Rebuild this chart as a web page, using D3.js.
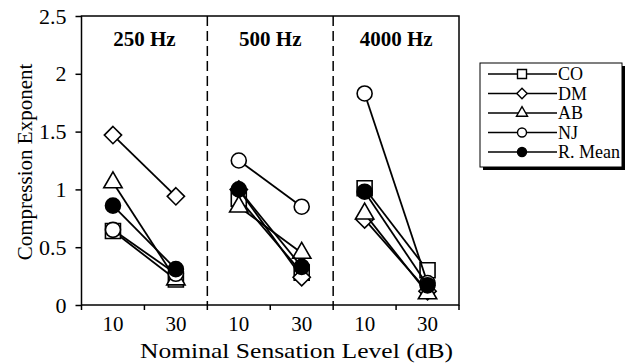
<!DOCTYPE html>
<html>
<head>
<meta charset="utf-8">
<script src="https://cdn.jsdelivr.net/npm/d3@7"></script>
<style>
  body { margin: 0; background: #fff; }
  text { font-family: "Liberation Serif", "Times New Roman", serif; fill: #000; }
</style>
</head>
<body>
<div id="chart-area"></div>
<script>
const panels = ["250 Hz", "500 Hz", "4000 Hz"];
const levels = ["10", "30"];
const seriesNames = ["CO", "DM", "AB", "NJ", "R. Mean"];
// values in order: 250-10, 250-30, 500-10, 500-30, 4000-10, 4000-30
const coValues = [0.64, 0.22, 0.92, 0.28, 1.01, 0.30];
const dmValues = [1.47, 0.94, 1.00, 0.24, 0.74, 0.12];
const abValues = [1.06, 0.22, 0.85, 0.45, 0.79, 0.10];
const njValues = [0.65, 0.27, 1.25, 0.85, 1.83, 0.19];
const meanValues = [0.86, 0.31, 1.00, 0.33, 0.98, 0.17];
const yTicks = [0, 0.5, 1, 1.5, 2, 2.5];

const allValues = [coValues, dmValues, abValues, njValues, meanValues];
const categories = panels.flatMap(p => levels.map(l => p + "|" + l));

const plot = { left: 81.5, right: 459, top: 16, bottom: 305 };

const svg = d3.select("#chart-area")
  .append("svg")
    .attr("width", 626)
    .attr("height", 363);

const x = d3.scaleBand()
  .domain(categories)
  .range([plot.left, plot.right])
  .padding(0);

const y = d3.scaleLinear()
  .domain([0, 2.5])
  .range([plot.bottom, plot.top]);

// diamond as a square turned 45 degrees
function diamond(s) {
  return `M0,${-s}L${s},0L0,${s}L${-s},0Z`;
}

const markers = [
  { path: s => d3.symbol(d3.symbolSquare, s * s * 4)(), fill: "#fff" },
  { path: s => diamond(s * 1.15), fill: "#fff" },
  { path: s => d3.symbol(d3.symbolTriangle, s * s * 2.6)(), fill: "#fff" },
  { path: s => d3.symbol(d3.symbolCircle, Math.PI * s * s)(), fill: "#fff" },
  { path: s => d3.symbol(d3.symbolCircle, Math.PI * s * s)(), fill: "#000" }
];

// plot frame
svg.append("rect")
  .attr("x", plot.left)
  .attr("y", plot.top)
  .attr("width", plot.right - plot.left)
  .attr("height", plot.bottom - plot.top)
  .attr("fill", "none")
  .attr("stroke", "#000")
  .attr("stroke-width", 1.5);

// dashed panel separators
[2, 4].forEach(i => {
  svg.append("line")
    .attr("x1", x(categories[i]))
    .attr("x2", x(categories[i]))
    .attr("y1", plot.top)
    .attr("y2", plot.bottom)
    .attr("stroke", "#000")
    .attr("stroke-width", 1.5)
    .attr("stroke-dasharray", "10,5");
});

// y axis
const yAxis = svg.append("g")
  .attr("transform", `translate(${plot.left}, 0)`)
  .call(d3.axisLeft(y)
    .tickValues(yTicks)
    .tickSize(6)
    .tickPadding(9)
    .tickFormat(d => String(d)));
yAxis.select(".domain").remove();
yAxis.selectAll(".tick line").attr("stroke-width", 1.5);
yAxis.selectAll("text")
  .attr("font-size", "22px")
  .attr("font-family", "Liberation Serif");

// x axis: ticks between categories, labels at centres
const xAxis = svg.append("g")
  .attr("transform", `translate(0, ${plot.bottom})`)
  .call(d3.axisBottom(x)
    .tickSize(0)
    .tickPadding(11)
    .tickFormat(d => d.split("|")[1]));
xAxis.select(".domain").remove();
xAxis.selectAll("text")
  .attr("font-size", "21px")
  .attr("font-family", "Liberation Serif");

svg.append("g")
  .selectAll("line")
  .data(d3.range(categories.length + 1))
  .join("line")
    .attr("x1", i => plot.left + i * x.step())
    .attr("x2", i => plot.left + i * x.step())
    .attr("y1", plot.bottom)
    .attr("y2", plot.bottom + 5)
    .attr("stroke", "#000")
    .attr("stroke-width", 1.5);

// panel titles
panels.forEach((p, i) => {
  const a = x(categories[i * 2]);
  const b = x(categories[i * 2 + 1]) + x.bandwidth();
  svg.append("text")
    .attr("x", (a + b) / 2)
    .attr("y", 46)
    .attr("text-anchor", "middle")
    .attr("font-size", "21px")
    .attr("font-weight", "bold")
    .text(p);
});

// axis titles
svg.append("text")
  .attr("x", 296.5)
  .attr("y", 357.5)
  .attr("text-anchor", "middle")
  .attr("font-size", "22px")
  .attr("textLength", 313)
  .attr("lengthAdjust", "spacingAndGlyphs")
  .text("Nominal Sensation Level (dB)");

svg.append("text")
  .attr("transform", "rotate(-90)")
  .attr("x", -162)
  .attr("y", 32)
  .attr("text-anchor", "middle")
  .attr("font-size", "21px")
  .text("Compression Exponent");

// series
const cx = i => x(categories[i]) + x.bandwidth() / 2;

allValues.forEach((vals, s) => {
  const g = svg.append("g");
  panels.forEach((p, pi) => {
    g.append("line")
      .attr("x1", cx(pi * 2))
      .attr("y1", y(vals[pi * 2]))
      .attr("x2", cx(pi * 2 + 1))
      .attr("y2", y(vals[pi * 2 + 1]))
      .attr("stroke", "#000")
      .attr("stroke-width", 1.8);
  });
  g.selectAll("path")
    .data(vals)
    .join("path")
      .attr("d", markers[s].path(7.5))
      .attr("transform", (d, i) => `translate(${cx(i)}, ${y(d)})`)
      .attr("fill", markers[s].fill)
      .attr("stroke", "#000")
      .attr("stroke-width", 1.6);
});

// legend
const lg = svg.append("g").attr("transform", "translate(480, 63)");
lg.append("rect")
  .attr("x", 3).attr("y", 3)
  .attr("width", 142).attr("height", 104)
  .attr("fill", "#000");
lg.append("rect")
  .attr("width", 142).attr("height", 104)
  .attr("fill", "#fff")
  .attr("stroke", "#000")
  .attr("stroke-width", 1);

seriesNames.forEach((name, s) => {
  const ry = 11 + s * 19.5;
  lg.append("line")
    .attr("x1", 8).attr("x2", 77)
    .attr("y1", ry).attr("y2", ry)
    .attr("stroke", "#000")
    .attr("stroke-width", 1.6);
  lg.append("path")
    .attr("d", markers[s].path(4.5))
    .attr("transform", `translate(42, ${ry})`)
    .attr("fill", markers[s].fill)
    .attr("stroke", "#000")
    .attr("stroke-width", 1.4);
  lg.append("text")
    .attr("x", 78)
    .attr("y", ry + 6)
    .attr("font-size", "18px")
    .text(name);
});
</script>
</body>
</html>
